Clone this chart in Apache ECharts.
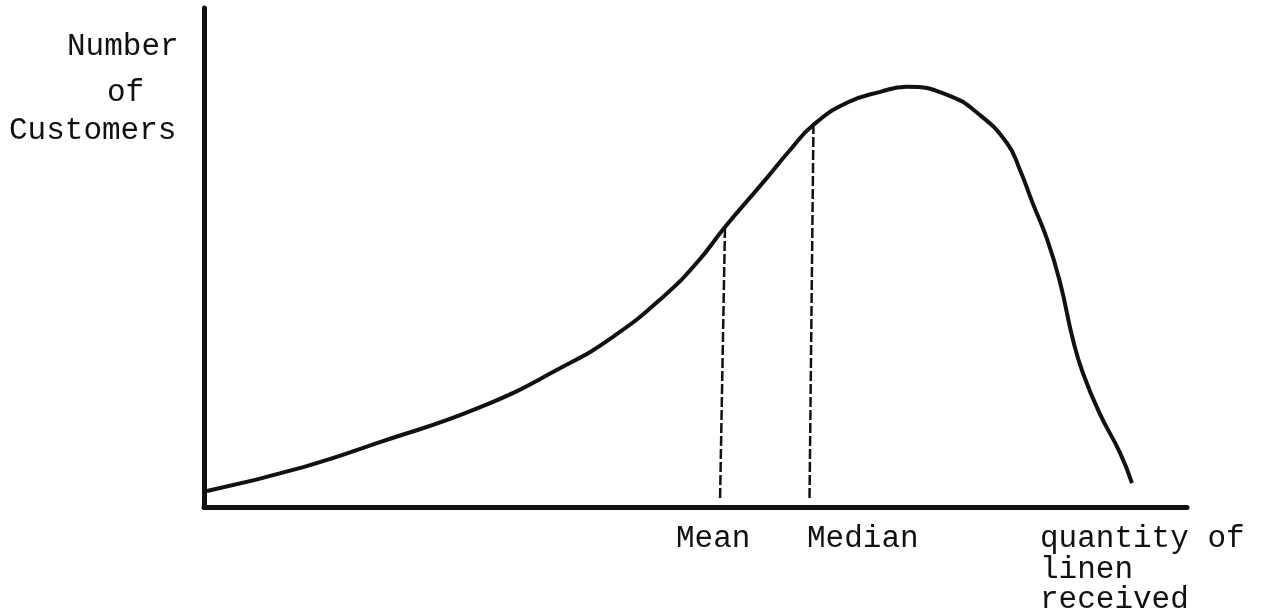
<!DOCTYPE html>
<html>
<head>
<meta charset="utf-8">
<script src="https://cdn.jsdelivr.net/npm/echarts@6/dist/echarts.min.js"></script>
<style>
  html, body { margin: 0; padding: 0; background: #fff; }
  #chart { width: 1265px; height: 614px; }
</style>
</head>
<body>
<div id="chart"></div>
<script>
// curve (x: quantity of linen, y: number of customers, both 0-100)
var curveX = [0.3, 10.1, 17.9, 28.1, 36.5, 41.6, 46.7, 50.2, 53.0, 56.9, 59.6, 62.0, 65.4, 68.8, 71.5, 75.6, 78.9, 81.7, 83.0, 84.3, 85.8, 87.1, 88.4, 89.4, 91.1, 93.2, 94.4];
var curveY = [3.2, 8.0, 13.0, 20.0, 28.1, 34.1, 42.1, 49.1, 56.1, 65.1, 71.5, 76.6, 81.0, 83.2, 84.2, 82.6, 78.6, 72.9, 67.6, 60.9, 53.5, 44.9, 33.5, 26.9, 18.8, 10.8, 4.8];

// dashed drop lines
var meanX = [52.5, 53.0];
var meanY = [1.8, 56.1];
var medianX = [61.6, 62.0];
var medianY = [1.8, 76.6];

var yLabels = ['Number', 'of', 'Customers'];
var xLabels = ['Mean', 'Median'];
var xAxisName = ['quantity of', 'linen', 'received'];

function pairs(xs, ys) {
    var out = [];
    for (var i = 0; i < xs.length; i++) out.push([xs[i], ys[i]]);
    return out;
}

var font = '"Liberation Mono", "DejaVu Sans Mono", monospace';
var ink = '#111';

function label(text, x, y) {
    return {
        type: 'text', left: x, top: y,
        style: { text: text, fill: ink, font: '31px ' + font }
    };
}

var chart = echarts.init(document.getElementById('chart'));
var option = {
    backgroundColor: '#fff',
    animation: false,
    grid: { left: 204, right: 78, top: 8, bottom: 107 },
    xAxis: {
        type: 'value', min: 0, max: 100,
        axisLine: { show: true, lineStyle: { color: ink, width: 5 } },
        axisTick: { show: false },
        axisLabel: { show: false },
        splitLine: { show: false }
    },
    yAxis: {
        type: 'value', min: 0, max: 100,
        axisLine: { show: true, lineStyle: { color: ink, width: 5 } },
        axisTick: { show: false },
        axisLabel: { show: false },
        splitLine: { show: false }
    },
    series: [
        {
            type: 'line',
            data: pairs(curveX, curveY),
            smooth: 0.5,
            showSymbol: false,
            lineStyle: { color: ink, width: 4 }
        },
        {
            type: 'line',
            data: pairs(meanX, meanY),
            showSymbol: false,
            lineStyle: { color: ink, width: 2.5, type: [10, 3] }
        },
        {
            type: 'line',
            data: pairs(medianX, medianY),
            showSymbol: false,
            lineStyle: { color: ink, width: 2.5, type: [10, 3] }
        }
    ],
    graphic: [
        label(yLabels[0], 67, 31),
        label(yLabels[1], 107, 77),
        label(yLabels[2], 9, 115),
        label(xLabels[0], 676, 523),
        label(xLabels[1], 807, 523),
        label(xAxisName[0], 1040, 523),
        label(xAxisName[1], 1040, 554),
        label(xAxisName[2], 1040, 584)
    ]
};
chart.setOption(option);
window.onresize = function () {
    chart.resize();
};
</script>
</body>
</html>
